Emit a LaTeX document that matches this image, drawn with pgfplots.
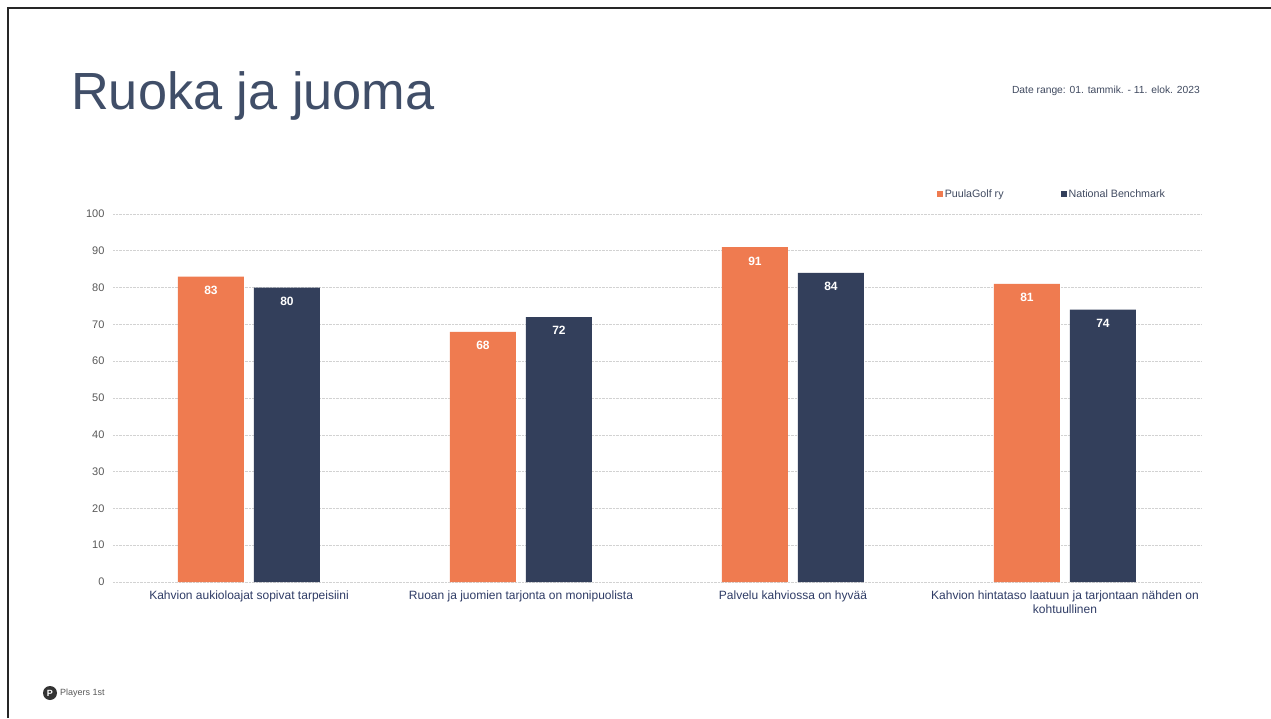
\documentclass[border=0pt]{standalone}
\usepackage{fontspec}
\setmainfont{Liberation Sans}
\usepackage{pgfplots}
\pgfplotsset{compat=1.18}
\definecolor{orangebar}{HTML}{EF7B50}
\definecolor{navybar}{HTML}{333F5B}
\definecolor{titlecol}{HTML}{404E68}
\definecolor{ticklab}{HTML}{595959}
\definecolor{xlab}{HTML}{2F3C66}
\definecolor{legtext}{HTML}{404A60}
\begin{document}
\begin{tikzpicture}
\useasboundingbox (0pt,0pt) rectangle (1271pt,718pt);
\fill[white] (0pt,0pt) rectangle (1271pt,718pt);
\draw[line width=2.5pt, black!85] (8pt,0pt) -- (8pt,710pt) -- (1271pt,710pt);
\node[anchor=base west, text=titlecol, font=\fontsize{52.3}{60}\selectfont, inner sep=0pt] at (71pt,608pt) {Ruoka ja juoma};
\node[anchor=base east, text=legtext, font=\fontsize{10.3}{12}\selectfont, inner sep=0pt] at (1200pt,624pt) {Date range: 01. tammik. - 11. elok. 2023};
\fill[black!80] (50pt,25pt) circle (7pt);
\node[text=white, font=\fontsize{9}{10}\selectfont\bfseries, inner sep=0pt] at (50pt,25pt) {P};
\node[anchor=west, text=ticklab, font=\fontsize{9}{10}\selectfont, inner sep=0pt] at (60pt,25pt) {Players 1st};
\begin{axis}[
  at={(113pt,136pt)}, anchor=south west,
  scale only axis, width=1088pt, height=368pt,
  xmin=-0.5, xmax=3.5, ymin=0, ymax=100,
  ytick={0,10,...,100},
  xtick={0,1,2,3},
  xticklabels={Kahvion aukioloajat sopivat tarpeisiini, Ruoan ja juomien tarjonta on monipuolista, Palvelu kahviossa on hyvää, {Kahvion hintataso laatuun ja tarjontaan nähden on\\kohtuullinen}},
  xticklabel style={align=center, text=xlab, font=\fontsize{12}{14}\selectfont, yshift=-5pt},
  yticklabel style={text=ticklab, font=\fontsize{11}{13}\selectfont, xshift=-5pt},
  /pgf/number format/assume math mode=true,
  axis line style={draw=none},
  major tick length=0pt,
  ymajorgrids,
  major grid style={gray!35, densely dotted, line width=0.6pt},
  ybar, bar width=66pt,
  nodes near coords,
  every node near coord/.append style={anchor=north, yshift=-6pt, text=white, font=\fontsize{12}{14}\selectfont\bfseries},
  legend image code/.code={\fill[#1] (0pt,-3pt) rectangle (6pt,3pt);},
  legend columns=2,
  legend style={at={(0.757,1.054)}, anchor=west, draw=none, fill=none, inner sep=0pt,
    font=\fontsize{10.7}{12}\selectfont, text=legtext,
    /tikz/every even column/.style={column sep=55pt},
    /tikz/every odd column/.style={column sep=0pt}},
]
\addplot[fill=orangebar, draw=none, bar shift=-38pt] coordinates {(0,83) (1,68) (2,91) (3,81)};
\addplot[fill=navybar, draw=none, bar shift=38pt] coordinates {(0,80) (1,72) (2,84) (3,74)};
\legend{PuulaGolf ry, National Benchmark}
\end{axis}
\end{tikzpicture}
\end{document}
